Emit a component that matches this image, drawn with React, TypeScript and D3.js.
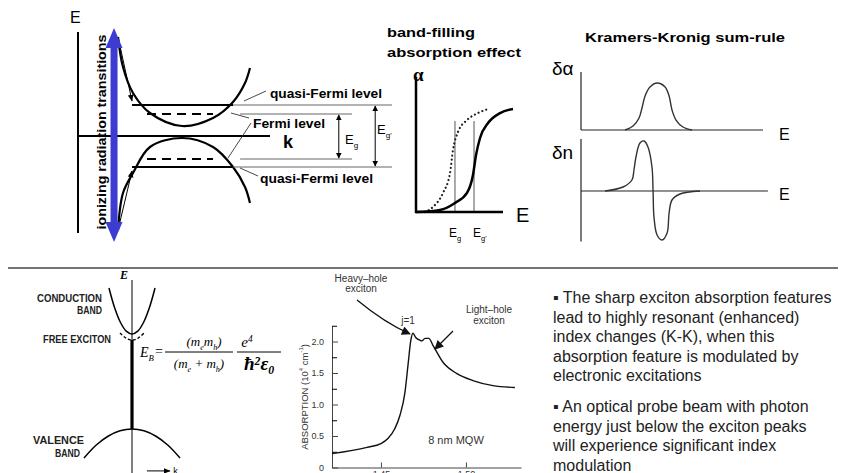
import React, { useEffect, useRef } from "react";
import * as d3 from "d3";

// ---------- top-left: band diagram (k, E in arbitrary units) ----------
const conductionBand: [number, number][] = [[-0.914, 0.99], [-0.843, 0.69], [-0.70, 0.43], [-0.457, 0.23], [0, 0.10], [0.443, 0.18], [0.729, 0.34], [0.9, 0.53], [0.971, 0.68]];
const valenceBand: [number, number][] = [[-0.914, -0.94], [-0.843, -0.57], [-0.70, -0.37], [-0.457, -0.11], [0, -0.02], [0.443, -0.11], [0.729, -0.31], [0.9, -0.51], [0.971, -0.67]];
const quasiFermiLevels = [0.31, -0.31];
const fermiLevels = [0.22, -0.23];

// ---------- band-filling absorption (E, alpha normalised) ----------
const alphaShifted: [number, number][] = [[0, 0], [0.276, 0.015], [0.448, 0.067], [0.586, 0.141], [0.655, 0.274], [0.69, 0.422], [0.736, 0.548], [0.828, 0.659], [0.966, 0.733], [1.115, 0.763]];
const alphaOriginal: [number, number][] = [[0.103, 0], [0.195, 0.037], [0.31, 0.141], [0.391, 0.289], [0.425, 0.459], [0.483, 0.593], [0.586, 0.681], [0.713, 0.733], [0.828, 0.763]];
const gapEnergies = [0.448, 0.667];

// ---------- Kramers-Kronig ----------
const deltaAlpha: [number, number][] = [[0.242, 0], [0.286, 0.069], [0.319, 0.207], [0.335, 0.379], [0.352, 0.586], [0.379, 0.741], [0.418, 0.81], [0.462, 0.741], [0.484, 0.586], [0.5, 0.345], [0.522, 0.172], [0.56, 0.052], [0.61, 0]];
const deltaN: [number, number][] = [[0.132, 0], [0.231, 0.08], [0.28, 0.22], [0.291, 0.42], [0.302, 0.68], [0.324, 0.96], [0.346, 1.0], [0.368, 0.88], [0.39, 0.48], [0.396, 0], [0.401, -0.52], [0.418, -0.88], [0.445, -0.98], [0.473, -0.84], [0.484, -0.44], [0.5, -0.18], [0.544, -0.06], [0.654, 0]];

// ---------- bottom-left: exciton E-k diagram ----------
const excConduction: [number, number][] = [[-0.48, 1.0], [-0.36, 0.882], [-0.24, 0.797], [-0.12, 0.746], [0, 0.729], [0.12, 0.746], [0.24, 0.797], [0.36, 0.882], [0.48, 1.0]];
const excValence: [number, number][] = [[-1, 0], [-0.75, 0.075], [-0.5, 0.128], [-0.25, 0.16], [0, 0.171], [0.25, 0.16], [0.5, 0.128], [0.75, 0.075], [1, 0]];
const excLevel: [number, number][] = [[-0.25, 0.735], [-0.12, 0.704], [0, 0.694], [0.12, 0.704], [0.25, 0.735]];

// ---------- MQW absorption spectrum ----------
const absEnergy = [1.4212, 1.4418, 1.45, 1.4541, 1.4582, 1.4612, 1.4641, 1.4659, 1.4676, 1.4688, 1.4706, 1.4729, 1.4741, 1.4759, 1.4782, 1.4806, 1.4865, 1.4947, 1.5041, 1.5159, 1.5288];
const absValue = [0.22, 0.32, 0.38, 0.46, 0.62, 0.83, 1.19, 1.62, 2.02, 2.13, 2.06, 2.02, 2.01, 2.05, 2.05, 1.94, 1.67, 1.49, 1.38, 1.3, 1.27];
const absMajorTicks = [0, 0.5, 1.0, 1.5, 2.0];
const absMinorTicks = [0.25, 0.75, 1.25, 1.75, 2.25];
const energyTicks = [1.45, 1.5];

const bulletLines = [
  "\u25AA The sharp exciton absorption features",
  "lead to highly resonant (enhanced)",
  "index changes (K-K), when this",
  "absorption feature is modulated by",
  "electronic excitations",
  "",
  "\u25AA An optical probe beam with photon",
  "energy just below the exciton peaks",
  "will experience significant index",
  "modulation",
];

const SANS = "'Liberation Sans', Arial, sans-serif";
const SERIF = "'Liberation Serif', 'Times New Roman', serif";
const NARROW = "'Liberation Sans Narrow', 'Liberation Sans', Arial, sans-serif";

const App = () => {
  const ref = useRef<SVGSVGElement>(null);

  useEffect(() => {
    document.body.style.margin = "0";
    const svg = d3.select(ref.current);
    svg.selectAll("*").remove();

    const defs = svg.append("defs");
    defs.append("marker").attr("id", "head").attr("viewBox", "0 0 10 10")
      .attr("refX", 9).attr("refY", 5).attr("markerWidth", 7).attr("markerHeight", 7)
      .attr("markerUnits", "userSpaceOnUse").attr("orient", "auto")
      .append("path").attr("d", "M0,1 L10,5 L0,9 z").attr("fill", "#000");
    defs.append("marker").attr("id", "headBig").attr("viewBox", "0 0 10 10")
      .attr("refX", 9).attr("refY", 5).attr("markerWidth", 10).attr("markerHeight", 9)
      .attr("markerUnits", "userSpaceOnUse").attr("orient", "auto")
      .append("path").attr("d", "M0,0 L10,5 L0,10 z").attr("fill", "#111");
    defs.append("marker").attr("id", "tick").attr("viewBox", "0 0 10 10")
      .attr("refX", 9).attr("refY", 5).attr("markerWidth", 6).attr("markerHeight", 6)
      .attr("markerUnits", "userSpaceOnUse").attr("orient", "auto-start-reverse")
      .append("path").attr("d", "M0,0 L10,5 L0,10 z").attr("fill", "#000");

    const text = (sel: any, x: number, y: number, s: string, o: any = {}) => {
      const t = sel.append("text").attr("x", x).attr("y", y)
        .attr("font-family", o.family || SANS)
        .attr("font-size", o.size || 12)
        .attr("font-weight", o.weight || "normal")
        .attr("font-style", o.style || "normal")
        .attr("text-anchor", o.anchor || "start")
        .attr("fill", o.fill || "#000")
        .text(s);
      if (o.len) t.attr("textLength", o.len).attr("lengthAdjust", "spacingAndGlyphs");
      if (o.transform) t.attr("transform", o.transform);
      return t;
    };
    // parts: [text, 0 normal | 1 subscript | -1 superscript]
    const rich = (sel: any, x: number, y: number, parts: [string, number][], o: any = {}) => {
      const t = text(sel, x, y, "", o);
      let shift = 0;
      parts.forEach(([s, kind]) => {
        const target = kind === 1 ? 3.5 : kind === -1 ? -5 : 0;
        t.append("tspan").attr("dy", target - shift)
          .attr("font-size", kind === 0 ? null : (o.size || 12) * 0.62)
          .text(s);
        shift = target;
      });
      return t;
    };
    const line = (sel: any, x1: number, y1: number, x2: number, y2: number, w = 1, c = "#000") =>
      sel.append("line").attr("x1", x1).attr("y1", y1).attr("x2", x2).attr("y2", y2)
        .attr("stroke", c).attr("stroke-width", w);

    // ================= band diagram =================
    const g1 = svg.append("g");
    const kx = d3.scaleLinear().domain([-1, 1]).range([112, 252]);
    const ey = d3.scaleLinear().domain([-1, 1]).range([236, 36]);
    const bandLine = d3.line<[number, number]>().x(d => kx(d[0])).y(d => ey(d[1])).curve(d3.curveCatmullRom.alpha(0.5));

    line(g1, kx(-1.486), ey(1.04), kx(-1.486), ey(-0.97), 2);
    line(g1, kx(-1.486), ey(0), kx(1.257), ey(0), 2);
    text(g1, 70, 23, "E", { size: 16 });
    text(g1, 283, 148, "k", { size: 18, weight: "bold" });

    g1.append("path").attr("d", bandLine(conductionBand)).attr("fill", "none").attr("stroke", "#000").attr("stroke-width", 2.2);
    g1.append("path").attr("d", bandLine(valenceBand)).attr("fill", "none").attr("stroke", "#000").attr("stroke-width", 2.2);

    quasiFermiLevels.forEach(e => {
      line(g1, kx(-0.714), ey(e), kx(0.729), ey(e), 2.2);
      line(g1, kx(0.729), ey(e), kx(3.0), ey(e), 1, "#666");
    });
    fermiLevels.forEach(e => {
      g1.append("line").attr("x1", kx(-0.5)).attr("x2", kx(0.443)).attr("y1", ey(e)).attr("y2", ey(e))
        .attr("stroke", "#000").attr("stroke-width", 2).attr("stroke-dasharray", "9 6");
      line(g1, kx(0.83), ey(e), kx(2.43), ey(e), 1, "#666");
    });

    // gap arrows
    [[2.24, fermiLevels], [2.76, quasiFermiLevels]].forEach(([k, lv]: any) => {
      g1.append("line").attr("x1", kx(k)).attr("x2", kx(k)).attr("y1", ey(lv[0]) + 1).attr("y2", ey(lv[1]) - 1)
        .attr("stroke", "#000").attr("stroke-width", 1)
        .attr("marker-start", "url(#tick)").attr("marker-end", "url(#tick)");
    });
    rich(g1, 345, 144, [["E", 0], ["g", 1]], { size: 13 });
    rich(g1, 377, 134, [["E", 0], ["g'", 1]], { size: 13 });

    // transition arrows
    g1.append("line").attr("x1", kx(-0.914)).attr("y1", ey(0.99)).attr("x2", kx(-0.714)).attr("y2", ey(0.35))
      .attr("stroke", "#000").attr("stroke-width", 1).attr("marker-end", "url(#head)");
    g1.append("line").attr("x1", kx(-0.914)).attr("y1", ey(-0.94)).attr("x2", kx(-0.714)).attr("y2", ey(-0.35))
      .attr("stroke", "#000").attr("stroke-width", 1).attr("marker-end", "url(#head)");

    // blue double arrow
    const bx = kx(-0.971), bt = ey(1.08), bb = ey(-1.06), hl = 20, hw = 8.5, sw = 3.5;
    g1.append("polygon").attr("fill", "#3c3cd0").attr("points", [
      [bx, bt], [bx + hw, bt + hl], [bx + sw, bt + hl], [bx + sw, bb - hl], [bx + hw, bb - hl], [bx, bb],
      [bx - hw, bb - hl], [bx - sw, bb - hl], [bx - sw, bt + hl], [bx - hw, bt + hl],
    ].map(p => p.join(",")).join(" "));
    text(g1, 0, 0, "ionizing radiation transitions", { size: 12, weight: "bold", anchor: "middle", len: 195, transform: "translate(105.5,132) rotate(-90)" });

    // labels and pointers
    text(g1, 270, 97.5, "quasi-Fermi level", { size: 12, weight: "bold", len: 112 });
    text(g1, 253, 128, "Fermi level", { size: 13, weight: "bold", len: 72 });
    text(g1, 260, 182.5, "quasi-Fermi level", { size: 12, weight: "bold", len: 113 });
    line(g1, 244, 101, 266, 91, 0.9, "#333");
    line(g1, 231, 113, 249, 118, 0.9, "#333");
    line(g1, 251, 123, 228, 158, 0.9, "#333");
    line(g1, 240, 168, 258, 176, 0.9, "#333");

    // ================= band filling =================
    const g2 = svg.append("g");
    const bfx = d3.scaleLinear().domain([0, 1]).range([416, 503]);
    const bfy = d3.scaleLinear().domain([0, 1]).range([212, 77]);
    const bfLine = d3.line<[number, number]>().x(d => bfx(d[0])).y(d => bfy(d[1])).curve(d3.curveMonotoneX);
    text(g2, 387, 37, "band-filling", { size: 13, weight: "bold", len: 88 });
    text(g2, 387, 57, "absorption effect", { size: 13, weight: "bold", len: 134 });
    text(g2, 413, 81, "\u03B1", { size: 19, weight: "bold", family: SERIF });
    gapEnergies.forEach(e => line(g2, bfx(e), bfy(0.674), bfx(e), bfy(0), 1, "#555"));
    g2.append("path").attr("d", bfLine(alphaOriginal)).attr("fill", "none").attr("stroke", "#222")
      .attr("stroke-width", 2.2).attr("stroke-dasharray", "0.1 4").attr("stroke-linecap", "round");
    g2.append("path").attr("d", bfLine(alphaShifted)).attr("fill", "none").attr("stroke", "#000").attr("stroke-width", 2.5);
    line(g2, bfx(0), bfy(1), bfx(0), bfy(0) + 1, 2.5);
    line(g2, bfx(0) - 1, bfy(0), bfx(1), bfy(0), 2.5);
    text(g2, 516, 222, "E", { size: 20 });
    rich(g2, 449, 237, [["E", 0], ["g", 1]], { size: 12 });
    rich(g2, 473, 237, [["E", 0], ["g'", 1]], { size: 12 });

    // ================= Kramers-Kronig =================
    const g3 = svg.append("g");
    const kkx = d3.scaleLinear().domain([0, 1]).range([581, 763]);
    const day = d3.scaleLinear().domain([0, 1]).range([130, 72]);
    const dny = d3.scaleLinear().domain([-1, 1]).range([241, 141]);
    const kkCurve = d3.curveCatmullRom.alpha(0.5);
    text(g3, 585, 42, "Kramers-Kronig sum-rule", { size: 13, weight: "bold", len: 200 });
    text(g3, 552, 75, "\u03B4\u03B1", { size: 19 });
    text(g3, 552, 159, "\u03B4n", { size: 19 });
    line(g3, kkx(0), day(1), kkx(0), day(0), 1.2, "#222");
    line(g3, kkx(0), day(0), kkx(1), day(0), 1.2, "#222");
    g3.append("path").attr("d", d3.line<[number, number]>().x(d => kkx(d[0])).y(d => day(d[1])).curve(kkCurve)(deltaAlpha))
      .attr("fill", "none").attr("stroke", "#333").attr("stroke-width", 1.4);
    line(g3, kkx(0), dny(1.04), kkx(0), dny(-1.01), 1.2, "#222");
    line(g3, kkx(0), dny(0), kkx(1.027), dny(0), 1.2, "#222");
    g3.append("path").attr("d", d3.line<[number, number]>().x(d => kkx(d[0])).y(d => dny(d[1])).curve(kkCurve)(deltaN))
      .attr("fill", "none").attr("stroke", "#333").attr("stroke-width", 1.4);
    text(g3, 779, 140, "E", { size: 16 });
    text(g3, 779, 200, "E", { size: 16 });

    // divider
    line(svg, 8, 268, 838, 268, 1.5, "#444");

    // ================= exciton E-k =================
    const g4 = svg.append("g");
    const ekx = d3.scaleLinear().domain([-1, 1]).range([84, 180]);
    const eky = d3.scaleLinear().domain([0, 1]).range([458, 288]);
    const ekLine = d3.line<[number, number]>().x(d => ekx(d[0])).y(d => eky(d[1])).curve(d3.curveCatmullRom);
    line(g4, ekx(0), eky(1.047), ekx(0), eky(-0.1), 1, "#000");
    g4.append("path").attr("d", ekLine(excConduction)).attr("fill", "none").attr("stroke", "#000").attr("stroke-width", 1.5);
    g4.append("path").attr("d", ekLine(excValence)).attr("fill", "none").attr("stroke", "#000").attr("stroke-width", 1.5);
    g4.append("path").attr("d", ekLine(excLevel)).attr("fill", "none").attr("stroke", "#000").attr("stroke-width", 1.3).attr("stroke-dasharray", "3 2");
    line(g4, ekx(0), eky(0.694), ekx(0), eky(0.171), 3.2, "#000");
    g4.append("line").attr("x1", ekx(0.31)).attr("x2", ekx(0.79)).attr("y1", eky(-0.076)).attr("y2", eky(-0.076))
      .attr("stroke", "#000").attr("stroke-width", 1).attr("marker-end", "url(#head)");
    text(g4, ekx(0.86), eky(-0.076) + 3, "k", { size: 9 });
    text(g4, 120, 279, "E", { size: 12, style: "italic", weight: "bold", family: SERIF });
    text(g4, 102, 302, "CONDUCTION", { size: 10, weight: "bold", family: NARROW, anchor: "end", len: 65, fill: "#222" });
    text(g4, 102, 314, "BAND", { size: 10, weight: "bold", family: NARROW, anchor: "end", len: 25, fill: "#222" });
    text(g4, 111, 343, "FREE EXCITON", { size: 10, weight: "bold", family: NARROW, anchor: "end", len: 68, fill: "#222" });
    text(g4, 84, 444, "VALENCE", { size: 10, weight: "bold", family: NARROW, anchor: "end", len: 51, fill: "#222" });
    text(g4, 80, 457, "BAND", { size: 10, weight: "bold", family: NARROW, anchor: "end", len: 25, fill: "#222" });

    // formula
    rich(g4, 140, 357, [["E", 0], ["B", 1]], { size: 14, style: "italic", family: SERIF });
    text(g4, 155, 356, "=", { size: 14, family: SERIF });
    line(g4, 165, 352, 233, 352, 1);
    rich(g4, 204, 346, [["(m", 0], ["e", 1], ["m", 0], ["h", 1], [")", 0]], { size: 13, style: "italic", family: SERIF, anchor: "middle" });
    rich(g4, 199, 368, [["(m", 0], ["e", 1], [" + m", 0], ["h", 1], [")", 0]], { size: 13, style: "italic", family: SERIF, anchor: "middle" });
    line(g4, 237, 352, 281, 352, 1);
    rich(g4, 247, 347, [["e", 0], ["4", -1]], { size: 15, style: "italic", family: SERIF, anchor: "middle" });
    rich(g4, 259, 370, [["\u0127", 0], ["2", -1], ["\u03B5", 0], ["0", 1]], { size: 19, weight: "bold", style: "italic", family: SERIF, anchor: "middle" });

    // ================= MQW absorption =================
    const g5 = svg.append("g");
    const ax = d3.scaleLinear().domain([1.4212, 1.5324]).range([332, 521]);
    const ay = d3.scaleLinear().domain([0, 2.25]).range([467.5, 325.75]);
    const absData: [number, number][] = absEnergy.map((e, i) => [e, absValue[i]]);

    const yAxis = g5.append("g").attr("transform", `translate(${ax.range()[0]},0)`)
      .call(d3.axisLeft(ay).tickValues(absMajorTicks).tickSize(-6).tickSizeOuter(0).tickPadding(8)
        .tickFormat((d: any) => (d === 0 ? "0" : d3.format(".1f")(d))));
    g5.append("g").attr("transform", `translate(${ax.range()[0]},0)`)
      .call(d3.axisLeft(ay).tickValues(absMinorTicks).tickSize(-5).tickSizeOuter(0).tickFormat(() => ""))
      .select(".domain").remove();
    const xAxis = g5.append("g").attr("transform", `translate(0,${ay(0)})`)
      .call(d3.axisBottom(ax).tickValues(energyTicks).tickSize(-5).tickSizeOuter(0).tickPadding(3).tickFormat(d3.format(".2f")));
    [yAxis, xAxis].forEach(a => {
      a.selectAll("text").attr("font-family", SANS).attr("font-size", 9).attr("fill", "#333");
      a.selectAll("line, path").attr("stroke", "#444");
    });

    g5.append("path").attr("d", d3.line<[number, number]>().x(d => ax(d[0])).y(d => ay(d[1])).curve(d3.curveMonotoneX)(absData))
      .attr("fill", "none").attr("stroke", "#111").attr("stroke-width", 1.4);

    rich(g5, 0, 0, [["ABSORPTION  (10", 0], ["4", -1], [" cm", 0], ["-1", -1], [")", 0]],
      { size: 9.5, anchor: "middle", fill: "#333", transform: "translate(308,397) rotate(-90)" });

    text(g5, 361, 282, "Heavy\u2013hole", { size: 10, anchor: "middle", fill: "#333" });
    text(g5, 361, 292, "exciton", { size: 10, anchor: "middle", fill: "#333" });
    text(g5, 408, 324, "j=1", { size: 10, anchor: "middle", fill: "#333" });
    text(g5, 489, 313, "Light\u2013hole", { size: 10, anchor: "middle", fill: "#333" });
    text(g5, 489, 324, "exciton", { size: 10, anchor: "middle", fill: "#333" });
    text(g5, 456, 444, "8 nm MQW", { size: 11, anchor: "middle", fill: "#333" });
    g5.append("path").attr("d", "M357,300 Q385,323 410,334").attr("fill", "none").attr("stroke", "#111")
      .attr("stroke-width", 1.3).attr("marker-end", "url(#headBig)");
    g5.append("line").attr("x1", 453).attr("y1", 331).attr("x2", 435).attr("y2", 349)
      .attr("stroke", "#111").attr("stroke-width", 1.3).attr("marker-end", "url(#headBig)");

    // ================= bullet text =================
    const g6 = svg.append("g");
    bulletLines.forEach((s, i) => {
      if (!s) return;
      text(g6, 553, 303 + i * 19.5 - (i > 5 ? 8 : 0), s, { size: 16, fill: "#222" });
    });
  }, []);

  return <svg ref={ref} width={843} height={473} style={{ display: "block", background: "#fff" }} />;
};

export default App;
